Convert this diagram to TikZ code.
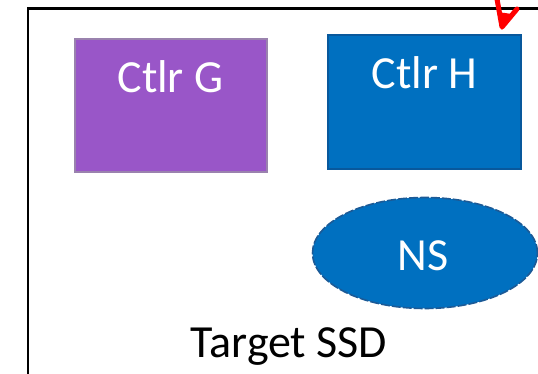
\documentclass[tikz,border=0pt]{standalone}
\usepackage{fontspec}
\setmainfont{Carlito}
\usetikzlibrary{shapes.geometric}
\definecolor{ctlrpurple}{HTML}{9956C8}
\definecolor{ctlrpurpleedge}{HTML}{9A82AE}
\definecolor{ctlrblue}{HTML}{0070C0}
\definecolor{ctlrblueedge}{HTML}{08589C}
\definecolor{nsedge}{HTML}{1C5A96}
\tikzset{
  ctlrbox/.style={rectangle, inner sep=0pt, line width=1.3pt},
  boxtext/.style={font=\fontsize{46}{46}\selectfont, text=white, anchor=base, inner sep=0pt},
  frametext/.style={font=\fontsize{46}{46}\selectfont, text=black, anchor=base, inner sep=0pt},
}
\begin{document}
\begin{tikzpicture}[x=1pt, y=-1pt]
  \useasboundingbox (0,0) rectangle (538,374);
  % outer device frame (runs off the right and bottom edges)
  \draw[line width=2.8pt, line cap=rect] (28,376) -- (28,8.7) -- (540,8.7);
  % controllers
  \node[ctlrbox, fill=ctlrpurple, draw=ctlrpurpleedge, minimum width=192pt, minimum height=133pt] (G) at (171,105.5) {};
  \node[boxtext] (Gtxt) at (170.5,93) {Ctlr G};
  \node[ctlrbox, fill=ctlrblue, draw=ctlrblueedge, minimum width=193pt, minimum height=134pt] (H) at (424.5,102) {};
  \node[boxtext] (Htxt) at (424.5,89) {Ctlr H};
  % namespace
  \node[ellipse, fill=ctlrblue, draw=nsedge, dashed, dash pattern=on 9pt off 2pt, line width=1.6pt, minimum width=225pt, minimum height=111pt, inner sep=0pt] (NS) at (425,253) {};
  \node[boxtext] (NStxt) at (423,270) {NS};
  % device caption
  \node[frametext] (SSD) at (289,357) {Target SSD};
  % red hand-drawn pointer
  \coordinate (tip) at (502,27);
  \coordinate (tail) at (497,-1);
  \coordinate (barb) at (517,9);
  \draw[red, line width=5pt, line cap=round, line join=round] (tail) -- (tip) -- (barb);
  \fill[red] (502,30) -- (497.5,12) -- (512,14) -- cycle;
\end{tikzpicture}
\end{document}
